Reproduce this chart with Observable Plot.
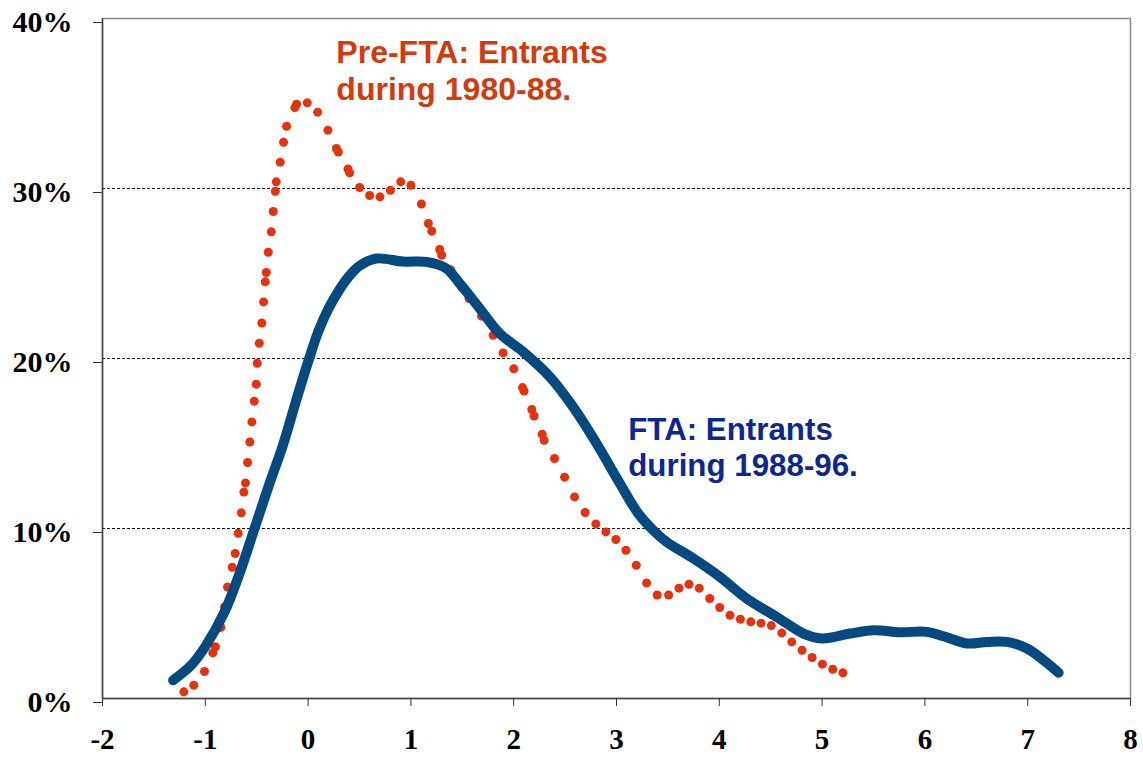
<!DOCTYPE html>
<html>
<head>
<meta charset="utf-8">
<script src="https://cdn.jsdelivr.net/npm/d3@7"></script>
<script src="https://cdn.jsdelivr.net/npm/@observablehq/plot@0.6"></script>
<style>
  html, body { margin: 0; padding: 0; background: #fff; }
  #chart svg { display: block; }
</style>
</head>
<body>
<div id="chart"></div>
<script>
// x ticks and y ticks
const xTicks = [-2, -1, 0, 1, 2, 3, 4, 5, 6, 7, 8];
const yTicks = [0, 10, 20, 30, 40];
const gridValues = [10, 20, 30];

// Pre-FTA entrants 1980-88 (dotted red series)
const preX = [-1.209,-1.112,-1.008,-0.927,-0.901,-0.849,-0.813,-0.784,-0.738,-0.709,-0.680,-0.650,-0.625,-0.609,-0.589,-0.567,-0.547,-0.524,-0.504,-0.495,-0.475,-0.450,-0.433,-0.417,-0.407,-0.388,-0.358,-0.339,-0.319,-0.310,-0.271,-0.239,-0.209,-0.129,-0.112,-0.008,0.093,0.193,0.275,0.294,0.388,0.404,0.501,0.599,0.699,0.800,0.901,1.001,1.102,1.170,1.203,1.280,1.300,1.390,1.490,1.566,1.687,1.800,1.897,2.001,2.086,2.101,2.176,2.199,2.277,2.296,2.397,2.495,2.592,2.695,2.799,2.897,2.994,3.092,3.192,3.293,3.396,3.507,3.608,3.705,3.805,3.907,4.004,4.104,4.205,4.306,4.406,4.506,4.608,4.705,4.805,4.903,5.003,5.104,5.202];
const preY = [0.39,0.78,1.59,2.68,3.04,4.18,5.39,6.56,7.72,8.53,9.72,10.92,12.14,12.68,13.88,15.09,16.27,17.49,18.49,19.72,20.9,22.09,23.33,24.51,25.06,26.25,27.45,28.65,29.84,30.39,31.55,32.72,33.66,34.76,34.96,35.04,34.49,33.43,32.35,32.15,31.15,30.92,30.06,29.59,29.51,29.9,30.39,30.19,29.09,27.94,27.49,26.41,26.08,25.2,24.21,23.53,22.49,21.37,20.33,19.39,18.29,18.09,17.0,16.62,15.55,15.19,14.12,13.02,11.86,10.94,10.27,9.8,9.35,8.72,7.84,6.8,6.09,6.09,6.49,6.72,6.49,5.88,5.35,4.9,4.66,4.51,4.43,4.29,3.86,3.33,2.84,2.41,2.02,1.72,1.51];

// FTA entrants 1988-96 (solid blue series)
const ftaX = [-1.313,-1.137,-0.991,-0.813,-0.667,-0.521,-0.375,-0.245,-0.115,0.0,0.1,0.2,0.3,0.4,0.5,0.664,0.923,1.151,1.346,1.475,1.670,1.864,2.092,2.352,2.578,2.806,3.033,3.210,3.357,3.488,3.747,4.007,4.267,4.559,4.818,4.997,5.273,5.500,5.760,6.020,6.181,6.409,6.604,6.798,6.993,7.155,7.301];
const ftaY = [1.07,1.96,3.14,5.09,7.35,10.0,12.65,14.9,17.55,19.8,21.6,22.95,24.0,24.85,25.45,25.88,25.7,25.68,25.29,24.41,22.94,21.47,20.39,18.92,17.15,15.0,12.65,10.9,9.9,9.21,8.24,7.15,5.88,4.8,3.82,3.53,3.82,4.02,3.9,3.92,3.66,3.24,3.33,3.33,2.94,2.25,1.51];

// Series annotation labels (text and anchor in data units)
const preLabel = ["Pre-FTA: Entrants\nduring 1980-88."];
const preLabelAt = [0.275, 38.92];
const ftaLabel = ["FTA: Entrants\nduring 1988-96."];
const ftaLabelAt = [3.114, 16.76];

const preData = preX.map((x, i) => ({x, y: preY[i]}));
const ftaData = ftaX.map((x, i) => ({x, y: ftaY[i]}));

const labelFont = "'Liberation Sans', Arial, sans-serif";

const chart = Plot.plot({
  width: 1143,
  height: 757,
  marginLeft: 102,
  marginRight: 13,
  marginTop: 18,
  marginBottom: 59,
  x: {domain: [-2, 8]},
  y: {domain: [0, 40]},
  style: {fontFamily: "'Liberation Serif', 'Times New Roman', serif", background: "#fff"},
  marks: [
    Plot.frame({stroke: "#8a8a8a", strokeWidth: 1.5}),
    Plot.ruleY(gridValues, {stroke: "#000", strokeWidth: 1, strokeDasharray: "3,2"}),
    Plot.dot(preData, {x: "x", y: "y", r: 4.5, fill: "#E8300A", stroke: "none"}),
    Plot.line(ftaData, {x: "x", y: "y", curve: "catmull-rom", stroke: "#04497F", strokeWidth: 10, strokeLinecap: "round", strokeLinejoin: "round"}),
    Plot.ruleY([0], {stroke: "#444", strokeWidth: 1.5}),
    Plot.ruleX([-2], {stroke: "#444", strokeWidth: 1.5}),
    Plot.axisX({ticks: xTicks, tickSize: 8, tickPadding: 22, tickFormat: d => String(d), fontSize: 29, fontWeight: "bold", stroke: "#333", fill: "#000", label: null}),
    Plot.axisY({ticks: yTicks, tickSize: 9, tickPadding: 21, tickFormat: d => d + "%", fontSize: 30, fontWeight: "bold", dy: 4, stroke: "#333", fill: "#000", label: null}),
    Plot.text(preLabel, {x: () => preLabelAt[0], y: () => preLabelAt[1], text: d => d, fill: "#D33B0C", textAnchor: "start", lineAnchor: "top", lineHeight: 1.147, fontSize: 32, fontWeight: "bold", fontFamily: labelFont}),
    Plot.text(ftaLabel, {x: () => ftaLabelAt[0], y: () => ftaLabelAt[1], text: d => d, fill: "#0E2790", textAnchor: "start", lineAnchor: "top", lineHeight: 1.17, fontSize: 31.3, fontWeight: "bold", fontFamily: labelFont})
  ]
});
document.getElementById("chart").appendChild(chart);
</script>
</body>
</html>
